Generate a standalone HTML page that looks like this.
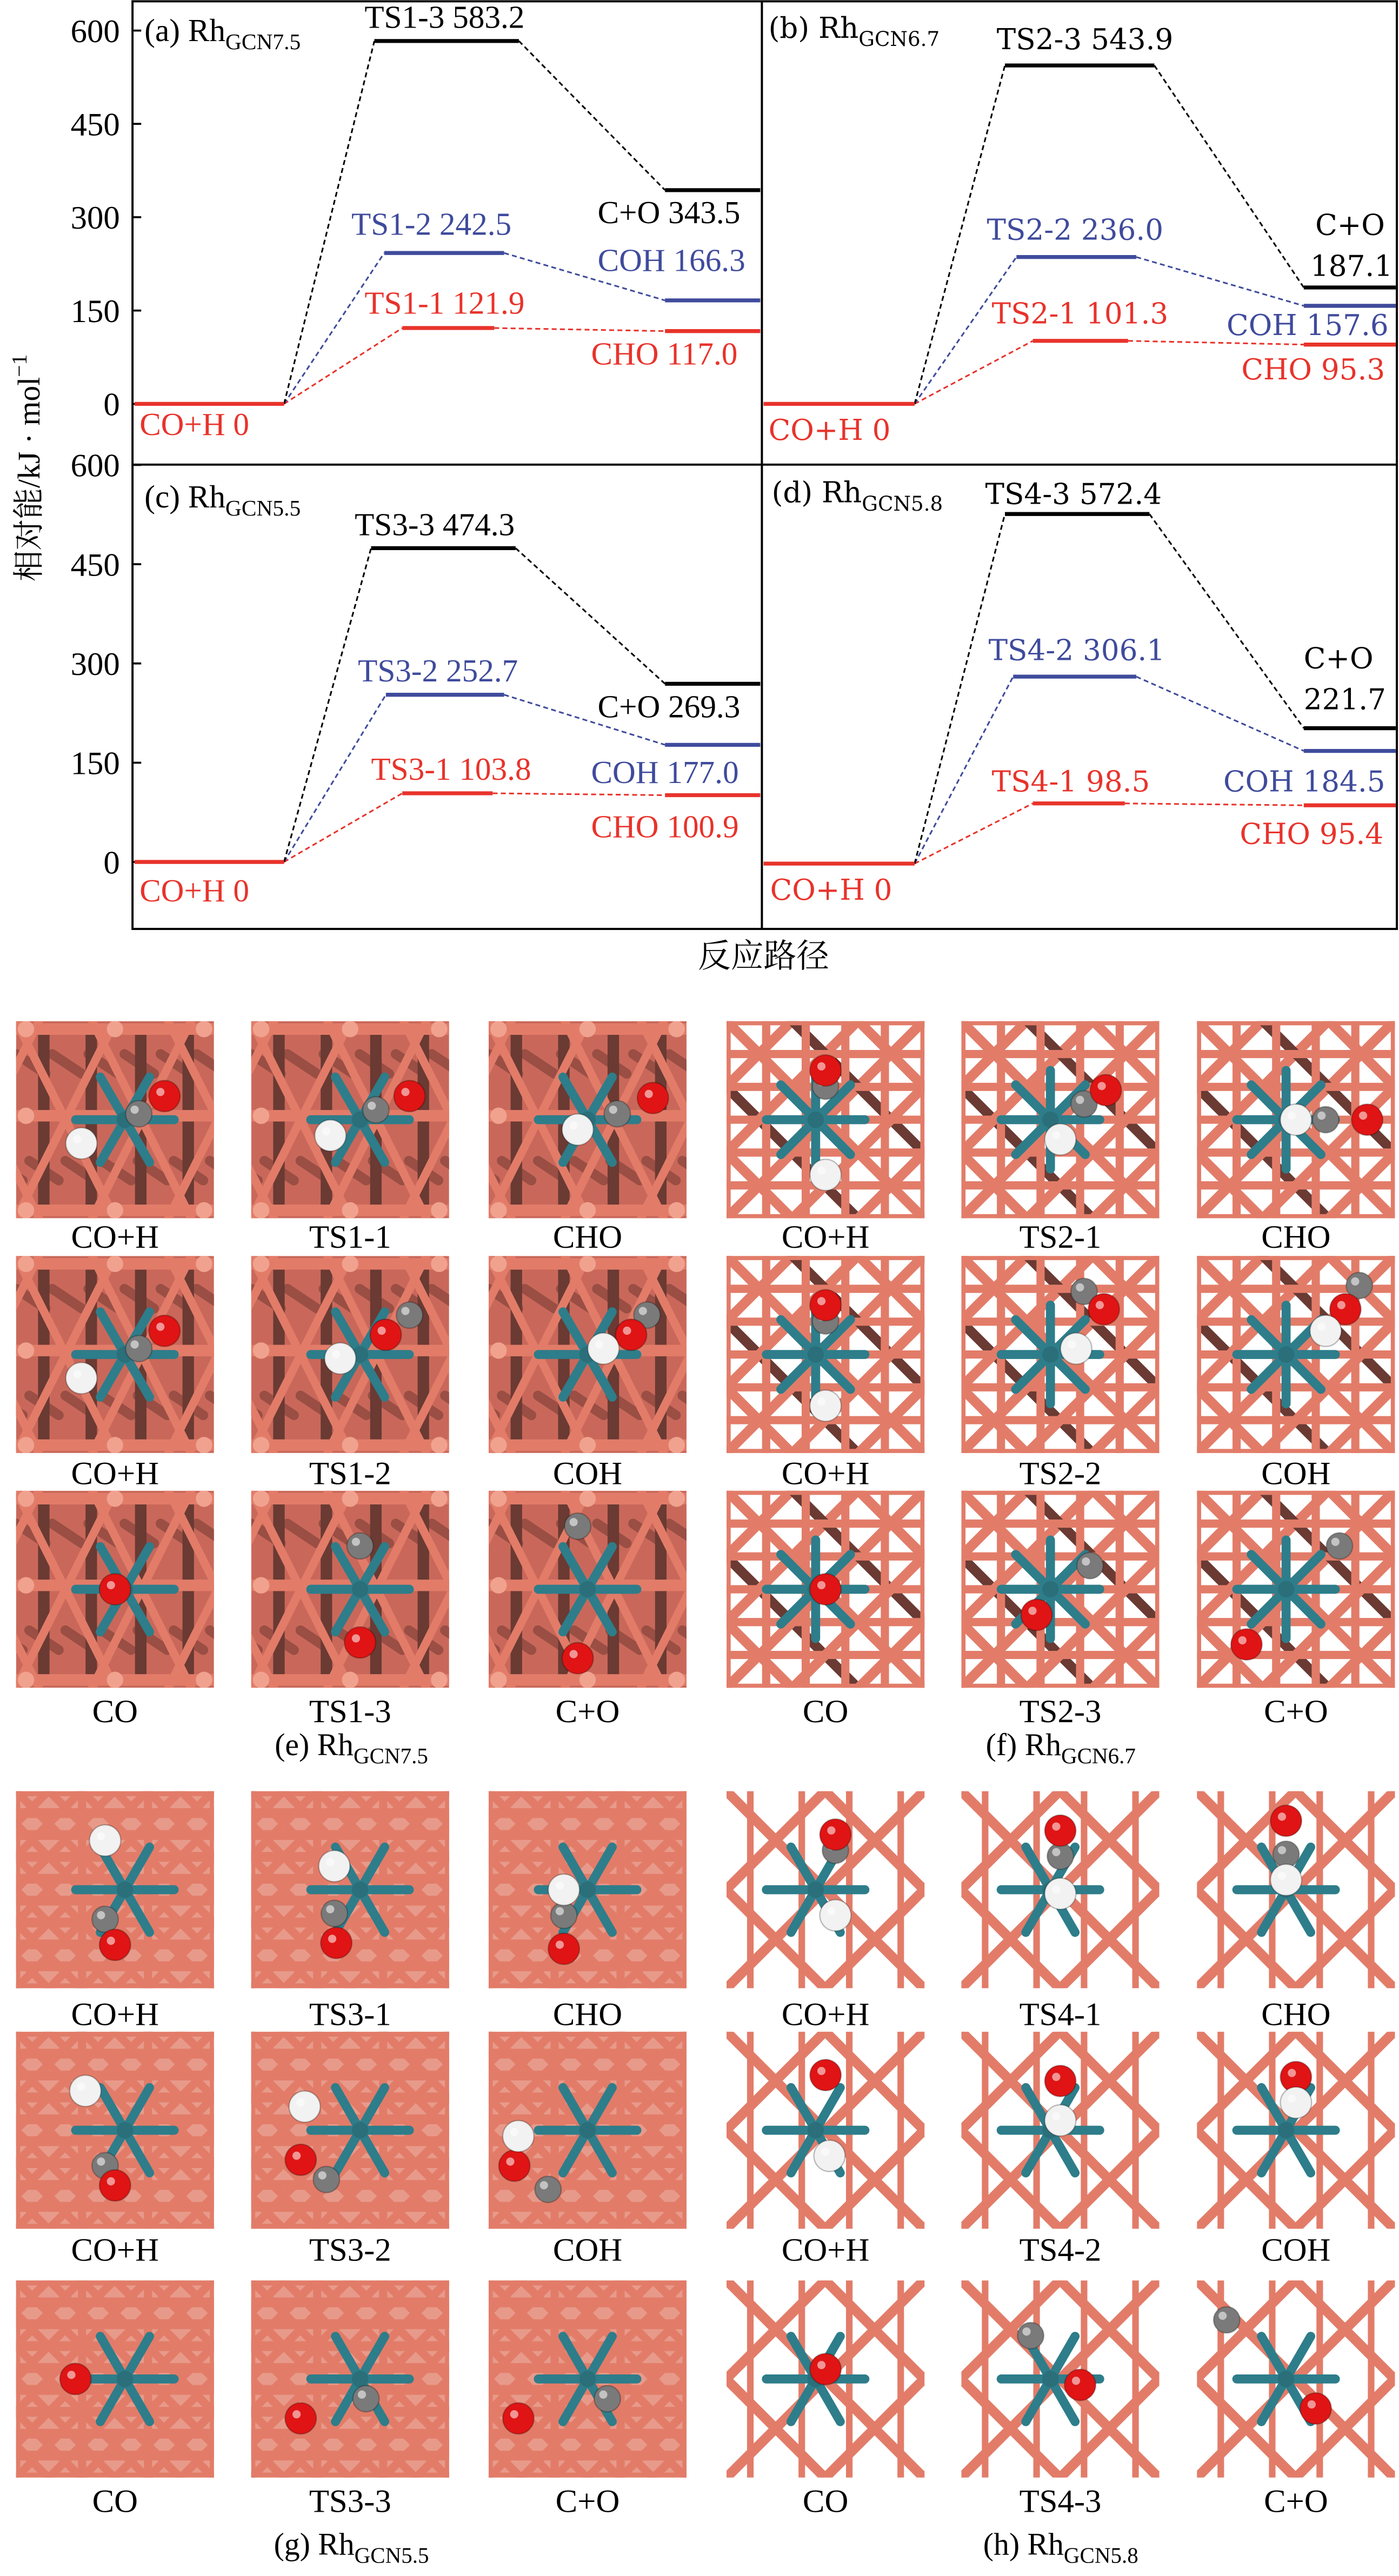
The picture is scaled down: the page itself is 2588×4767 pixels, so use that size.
<!DOCTYPE html>
<html><head><meta charset="utf-8"><title>Rh GCN energy profiles</title>
<style>
html,body{margin:0;padding:0;background:#fff;}
svg{display:block;}
</style></head>
<body>
<svg id="fig" xmlns="http://www.w3.org/2000/svg" width="2588" height="4767" viewBox="0 0 852 1569" preserveAspectRatio="none">
  <rect x="0" y="0" width="852" height="1569" fill="#fff"/>
  <g id="chart">
    <rect x="80.7" y="0.8" width="770" height="565" fill="none" stroke="#000" stroke-width="1.3"/>
    <line x1="80.7" y1="283" x2="851" y2="283" stroke="#000" stroke-width="1.3"/>
    <line x1="464" y1="0.8" x2="464" y2="566" stroke="#000" stroke-width="1.3"/>
    <text font-family="'Liberation Serif','Noto Serif CJK SC',serif" x="0" y="0" font-size="19" transform="translate(24,285) rotate(-90)" text-anchor="middle">相对能/kJ · mol<tspan font-size="13" dy="-8">−1</tspan></text>
    <text x="465" y="589" font-size="20" text-anchor="middle" font-family="'Noto Serif CJK SC','Noto Sans CJK SC',serif">反应路径</text>
  </g>
  <g id="tiles"></g>
</svg>
<script>
const NS = 'http://www.w3.org/2000/svg';
const svg = document.getElementById('fig');
const chart = document.getElementById('chart');
const tiles = document.getElementById('tiles');
const LT = "'Liberation Serif', serif";
const RT = "'DejaVu Serif', 'Liberation Serif', serif";

// ---------- chart data ----------
const tickValues = [0, 150, 300, 450, 600];
const pathNames = ['CHO', 'COH', 'C+O'];
const tsA = [121.9, 242.5, 583.2];
const finA = [117.0, 166.3, 343.5];
const tsB = [101.3, 236.0, 543.9];
const finB = [95.3, 157.6, 187.1];
const tsC = [103.8, 252.7, 474.3];
const finC = [100.9, 177.0, 269.3];
const tsD = [98.5, 306.1, 572.4];
const finD = [95.4, 184.5, 221.7];

const colors = ['#e8332b', '#3f4b9c', '#000000'];

function mk(tag, attrs, parent) {
  const el = document.createElementNS(NS, tag);
  for (const k in attrs) el.setAttribute(k, attrs[k]);
  (parent || svg).appendChild(el);
  return el;
}

const panels = [
  {id:'a', ts:tsA, fin:finA, zero:246, scale:0.379, start:[82,173], tsx:[[245,301],[234,307],[228,316]], finx:[405,463], ticks:true, ff:LT, fs:19.5,
   title:['(a) Rh','GCN7.5',88,25],
   labels:[[222,191,'TS1-1  '],[214,143,'TS1-2  '],[222,17,'TS1-3  ']],
   flabels:[[360,222,'CHO '],[364,165,'COH '],[364,136,'C+O ']], co:[85,265]},
  {id:'b', ts:tsB, fin:finB, zero:246, scale:0.379, start:[465,557], tsx:[[629,687],[619,692],[612,703]], finx:[794,850], ticks:false, ff:RT, fs:17.5,
   title:['(b) Rh','GCN6.7',468,23],
   labels:[[604,197,'TS2-1  '],[601,146,'TS2-2  '],[607,30,'TS2-3  ']],
   flabels:[[756,231,'CHO '],[747,204,'COH '],[801,143,'C+O']], co:[468,268], split:[798,168]},
  {id:'c', ts:tsC, fin:finC, zero:525, scale:0.403, start:[82,173], tsx:[[245,300],[235,307],[226,314]], finx:[405,463], ticks:true, ff:LT, fs:19.5,
   title:['(c) Rh','GCN5.5',88,309],
   labels:[[226,475,'TS3-1  '],[218,415,'TS3-2  '],[216,326,'TS3-3  ']],
   flabels:[[360,510,'CHO '],[360,477,'COH '],[364,437,'C+O ']], co:[85,549]},
  {id:'d', ts:tsD, fin:finD, zero:526, scale:0.372, start:[465,557], tsx:[[629,685],[617,692],[612,700]], finx:[794,850], ticks:false, ff:RT, fs:17.5,
   title:['(d) Rh','GCN5.8',470,306],
   labels:[[604,482,'TS4-1  '],[602,402,'TS4-2  '],[600,307,'TS4-3  ']],
   flabels:[[755,514,'CHO '],[745,482,'COH '],[794,407,'C+O']], co:[469,548], split:[794,432]}
];

panels.forEach(p => {
  const yv = v => p.zero - v * p.scale;
  const g = mk('g', {}, chart);
  
  
  if (p.ticks) {
    tickValues.forEach(t => {
      const tk = mk('line', {x1:80.7, x2:86, y1:yv(t), y2:yv(t), stroke:'#000', 'stroke-width':1.2}, g);
      
      
      const tl = mk('text', {x:73, y:yv(t) + 7, 'font-size':20, 'text-anchor':'end', 'font-family':LT}, g);
      
      
      tl.textContent = String(t);
    });
  }
  const tt = mk('text', {x:p.title[2], y:p.title[3], 'font-size':p.fs, 'font-family':p.ff}, g);
  
  
  tt.textContent = p.title[0];
  const sub = mk('tspan', {'font-size':p.fs * 0.7, dy:5}, tt);
  sub.textContent = p.title[1];
  for (let i = 0; i < 3; i++) {
    const c1 = mk('line', {x1:p.start[1], y1:yv(0), x2:p.tsx[i][0], y2:yv(p.ts[i]), stroke:colors[i], 'stroke-width':1, 'stroke-dasharray':'3,2'}, g);
    
    
    const c2 = mk('line', {x1:p.tsx[i][1], y1:yv(p.ts[i]), x2:p.finx[0], y2:yv(p.fin[i]), stroke:colors[i], 'stroke-width':1, 'stroke-dasharray':'3,2'}, g);
    
    
  }
  const sb = mk('line', {x1:p.start[0], x2:p.start[1], y1:yv(0), y2:yv(0), stroke:colors[0], 'stroke-width':2.4}, g);
  
  
  const sl = mk('text', {x:p.co[0], y:p.co[1], 'font-size':p.fs, fill:colors[0], 'font-family':p.ff}, g);
  
  
  sl.textContent = 'CO+H 0';
  for (let i = 0; i < 3; i++) {
    const b = mk('line', {x1:p.tsx[i][0], x2:p.tsx[i][1], y1:yv(p.ts[i]), y2:yv(p.ts[i]), stroke:colors[i], 'stroke-width':2.4}, g);
    
    
    const f = mk('line', {x1:p.finx[0], x2:p.finx[1], y1:yv(p.fin[i]), y2:yv(p.fin[i]), stroke:colors[i], 'stroke-width':2.4}, g);
    
    
    const tl = mk('text', {x:p.labels[i][0], y:p.labels[i][1], 'font-size':p.fs, fill:colors[i], 'font-family':p.ff, 'xml:space':'preserve'}, g);
    
    
    tl.textContent = p.labels[i][2] + p.ts[i].toFixed(1);
    const fl = mk('text', {x:p.flabels[i][0], y:p.flabels[i][1], 'font-size':p.fs, fill:colors[i], 'font-family':p.ff}, g);
    
    
    if (i === 2 && p.split) {
      fl.textContent = p.flabels[i][2];
      const f2 = mk('text', {x:p.split[0], y:p.split[1], 'font-size':p.fs, fill:colors[i], 'font-family':p.ff}, g);
      
      
      f2.textContent = p.fin[i].toFixed(1);
    } else {
      fl.textContent = p.flabels[i][2] + p.fin[i].toFixed(1);
    }
  }
});

// ---------- structure tiles ----------
const colX = [9.8, 153, 297.6, 442.5, 585.5, 729];
const rowY = [622, 765, 908, 1091, 1237.5, 1389];
const TW = 120.5, TH = 120;
const labelBase = [760, 904, 1049, 1233.5, 1377, 1530];
const rowLabels = [
  ['CO+H','TS1-1','CHO','CO+H','TS2-1','CHO'],
  ['CO+H','TS1-2','COH','CO+H','TS2-2','COH'],
  ['CO','TS1-3','C+O','CO','TS2-3','C+O'],
  ['CO+H','TS3-1','CHO','CO+H','TS4-1','CHO'],
  ['CO+H','TS3-2','COH','CO+H','TS4-2','COH'],
  ['CO','TS3-3','C+O','CO','TS4-3','C+O']
];
const atoms = [
  [[['C',.62,.47],['O',.75,.38],['H',.33,.62]], [['C',.63,.45],['O',.8,.38],['H',.4,.58]], [['C',.65,.47],['O',.83,.39],['H',.45,.55]],
   [['C',.5,.33],['O',.5,.25],['H',.5,.78]], [['C',.62,.42],['O',.73,.35],['H',.5,.6]], [['C',.65,.5],['H',.5,.5],['O',.86,.5]]],
  [[['C',.62,.47],['O',.75,.38],['H',.33,.62]], [['C',.8,.3],['O',.68,.4],['H',.45,.52]], [['C',.8,.3],['O',.72,.4],['H',.58,.47]],
   [['C',.5,.33],['O',.5,.25],['H',.5,.76]], [['C',.62,.18],['O',.72,.27],['H',.58,.47]], [['C',.82,.15],['O',.75,.27],['H',.65,.38]]],
  [[['O',.5,.5]], [['C',.55,.28],['O',.55,.77]], [['C',.45,.18],['O',.45,.85]],
   [['O',.5,.5]], [['C',.65,.38],['O',.38,.63]], [['C',.72,.28],['O',.25,.78]]],
  [[['C',.45,.65],['O',.5,.78],['H',.45,.25]], [['C',.42,.62],['H',.42,.38],['O',.43,.77]], [['C',.38,.63],['H',.38,.5],['O',.38,.8]],
   [['C',.55,.3],['O',.55,.22],['H',.55,.63]], [['C',.5,.33],['O',.5,.2],['H',.5,.52]], [['C',.45,.32],['O',.45,.15],['H',.45,.45]]],
  [[['C',.45,.68],['O',.5,.78],['H',.35,.3]], [['C',.38,.75],['O',.25,.65],['H',.27,.38]], [['C',.3,.8],['O',.13,.68],['H',.15,.53]],
   [['O',.5,.22],['H',.52,.63]], [['O',.5,.25],['H',.5,.45]], [['O',.5,.23],['H',.5,.36]]],
  [[['O',.3,.5]], [['C',.58,.6],['O',.25,.7]], [['C',.6,.6],['O',.15,.7]],
   [['O',.5,.45]], [['C',.35,.28],['O',.6,.53]], [['C',.15,.2],['O',.6,.65]]]
];
const starC = [[.55,.5],[.55,.5],[.5,.5],[.45,.5],[.45,.5],[.45,.5]];
const atomFill = {O:'#e01414', C:'#7a7a7a', H:'#f2f2f2'};
const atomR = {O:9.5, C:8, H:9.5};
const salmon = '#e27c69', salmonHi = '#f0a28f', dark = '#6a3a33';

function line(g, x1, y1, x2, y2, col, w) {
  return mk('line', {x1:x1, y1:y1, x2:x2, y2:y2, stroke:col, 'stroke-width':w, 'stroke-linecap':'round'}, g);
}

let clipIdx = 0;
function drawTile(r, c) {
  const x = colX[c], y = rowY[r], w = TW, h = TH;
  const type = r < 3 ? (c < 3 ? 'e' : 'f') : (c < 3 ? 'g' : 'h');
  const g = mk('g', {}, tiles);
  
  
  const id = 'clip' + (clipIdx++);
  const cp = mk('clipPath', {id:id}, g);
  mk('rect', {x:x, y:y, width:w, height:h}, cp);
  const inner = mk('g', {'clip-path':'url(#' + id + ')'}, g);
  if (type === 'e') {
    mk('rect', {x:x, y:y, width:w, height:h, fill:'#c9685a'}, inner);
    for (let k = -3; k < 6; k++) {
      line(inner, x + k * 22, y + 20, x + k * 22 + 18, y + 32, '#9a4e44', 6);
      line(inner, x + k * 22 + 8, y + 85, x + k * 22 + 26, y + 97, '#9a4e44', 6);
    }
    [.14, .38, .63, .87].forEach(f => line(inner, x + f * w, y + 8, x + f * w, y + h - 8, dark, 7));
    for (let k = -3; k < 4; k++) {
      line(inner, x + k * w / 2.6, y, x + k * w / 2.6 + w * 0.5, y + h, salmon, 5);
      line(inner, x + k * w / 2.6 + w * 0.5, y, x + k * w / 2.6, y + h, salmon, 5);
    }
    [0.04, 0.48, 0.96].forEach(f => line(inner, x, y + f * h, x + w, y + f * h, salmon, 7));
    [[.05,.04],[.5,.04],[.95,.04],[.05,.96],[.5,.96],[.95,.96],[.05,.48]].forEach(n => mk('circle', {cx:x + n[0] * w, cy:y + n[1] * h, r:5, fill:salmonHi}, inner));
  } else if (type === 'f') {
    mk('rect', {x:x, y:y, width:w, height:h, fill:'#ffffff'}, inner);
    for (let k = -3; k < 4; k++) {
      line(inner, x + k * w / 3, y, x + k * w / 3 + h, y + h, k % 2 ? dark : salmon, 6);
      line(inner, x + k * w / 3 + h, y, x + k * w / 3, y + h, salmon, 6);
    }
    for (let i = 0; i <= 6; i++) line(inner, x, y + i * h / 6, x + w, y + i * h / 6, salmon, 5);
    for (let i = 0; i <= 5; i++) line(inner, x + i * w / 5, y, x + i * w / 5, y + h, salmon, 5);
  } else if (type === 'g') {
    mk('rect', {x:x, y:y, width:w, height:h, fill:'#e89a8a'}, inner);
    for (let i = 0; i <= 9; i++) line(inner, x, y + i * h / 9, x + w, y + i * h / 9, salmon, 6);
    for (let i = 0; i <= 3; i++) line(inner, x + i * w / 3, y, x + i * w / 3, y + h, salmon, 5);
    for (let k = -6; k < 7; k++) {
      line(inner, x + k * w / 6, y, x + k * w / 6 + h, y + h, salmon, 5);
      line(inner, x + k * w / 6 + h, y, x + k * w / 6, y + h, salmon, 5);
    }
  } else {
    mk('rect', {x:x, y:y, width:w, height:h, fill:'#ffffff'}, inner);
    [.12, .38, .62, .88].forEach(f => line(inner, x + f * w, y, x + f * w, y + h, salmon, 4));
    for (let k = -3; k < 4; k++) {
      line(inner, x + k * w / 2, y, x + k * w / 2 + h, y + h, salmon, 6);
      line(inner, x + k * w / 2 + h, y, x + k * w / 2, y + h, salmon, 6);
    }
  }
  const sc = starC[c];
  const cx = x + sc[0] * w, cy = y + sc[1] * h;
  const angs = type === 'f' ? [0,45,90,135,180,225,270,315] : [0,60,120,180,240,300];
  angs.forEach(a => {
    const rad = a * Math.PI / 180;
    line(inner, cx, cy, cx + Math.cos(rad) * 30, cy + Math.sin(rad) * 30, '#2e7d8a', 5.5);
  });
  mk('circle', {cx:cx, cy:cy, r:5, fill:'#2a6f7a'}, inner);
  atoms[r][c].forEach(a => {
    const ax = x + a[1] * w, ay = y + a[2] * h;
    mk('circle', {cx:ax, cy:ay, r:atomR[a[0]], fill:atomFill[a[0]], stroke:'rgba(0,0,0,0.25)', 'stroke-width':0.8}, inner);
    mk('circle', {cx:ax - 2.5, cy:ay - 2.5, r:2.5, fill:'rgba(255,255,255,0.55)'}, inner);
  });
  const lb = mk('text', {x:x + w / 2, y:labelBase[r], 'font-size':20, 'text-anchor':'middle', 'font-family':LT}, tiles);
  
  
  lb.textContent = rowLabels[r][c];
}
for (let r = 0; r < 6; r++) for (let c = 0; c < 6; c++) drawTile(r, c);

const captions = [['(e) Rh','GCN7.5',214,1069],['(f) Rh','GCN6.7',646,1069],['(g) Rh','GCN5.5',214,1556],['(h) Rh','GCN5.8',646,1556]];
captions.forEach(cp => {
  const t = mk('text', {x:cp[2], y:cp[3], 'font-size':19, 'text-anchor':'middle', 'font-family':LT}, tiles);
  
  
  t.textContent = cp[0];
  const s = mk('tspan', {'font-size':13.5, dy:5}, t);
  s.textContent = cp[1];
});
</script>
</body></html>
